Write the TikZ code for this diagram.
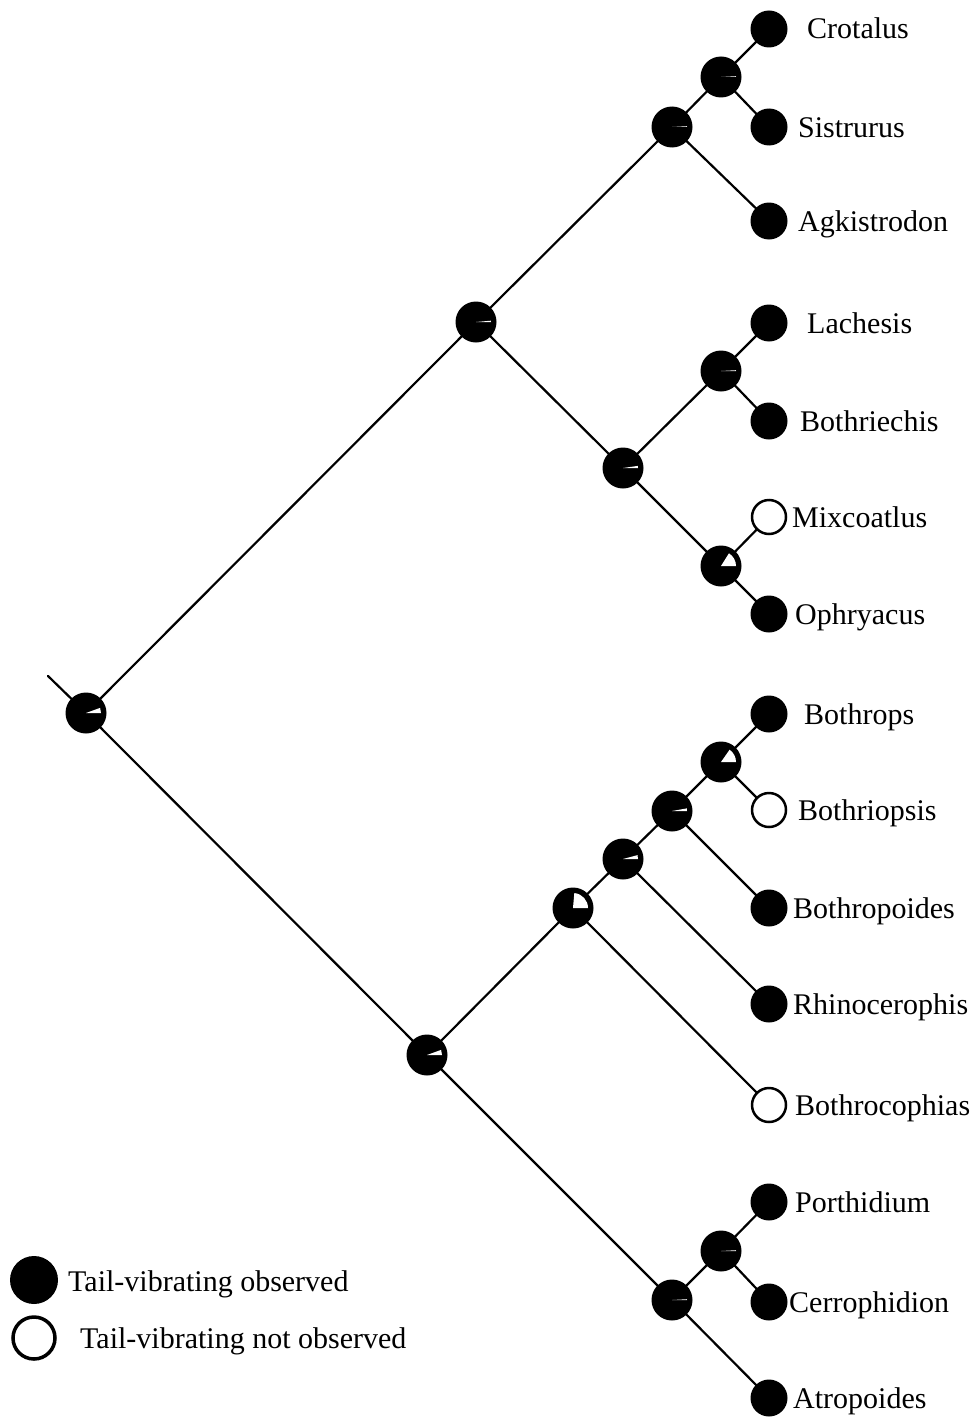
\documentclass[tikz,border=0pt]{standalone}
\usepackage{fontspec}
\setmainfont{Liberation Serif}
\usetikzlibrary{backgrounds}
\begin{document}
\begin{tikzpicture}[x=1pt,y=-1pt,
  edge/.style={line width=2.2pt, line cap=round},
  tipnode/.style={circle, fill=black, minimum size=37pt, inner sep=0pt},
  opentip/.style={circle, draw=black, line width=2.5pt, fill=white, minimum size=34pt, inner sep=0pt},
  innode/.style={circle, fill=black, minimum size=41pt, inner sep=0pt},
  lab/.style={anchor=base west, font=\fontsize{30}{36}\selectfont, inner sep=0pt},
  wedge/.style={fill=white}]
\useasboundingbox (0,0) rectangle (972,1418);
% tips
\node[tipnode] (crot) at (769,29) {};
\node[tipnode] (sist) at (769,127) {};
\node[tipnode] (agk) at (769,221) {};
\node[tipnode] (lach) at (769,323) {};
\node[tipnode] (bothri) at (769,421) {};
\node[opentip] (mix) at (769,517) {};
\node[tipnode] (oph) at (769,614) {};
\node[tipnode] (bops) at (769,714) {};
\node[opentip] (bopsis) at (769,810) {};
\node[tipnode] (boides) at (769,908) {};
\node[tipnode] (rhino) at (769,1004) {};
\node[opentip] (bcoph) at (769,1105) {};
\node[tipnode] (porth) at (769,1202) {};
\node[tipnode] (cerro) at (769,1302) {};
\node[tipnode] (atrop) at (769,1398) {};
% internal
\node[innode] (n1) at (721,77) {};
\node[innode] (n2) at (672,127) {};
\node[innode] (n3) at (721,371) {};
\node[innode] (n4) at (721,566) {};
\node[innode] (n5) at (623,468) {};
\node[innode] (n6) at (476,322) {};
\node[innode] (root) at (86,713) {};
\node[innode] (n7) at (721,762) {};
\node[innode] (n8) at (672,811) {};
\node[innode] (n9) at (623,859) {};
\node[innode] (n10) at (573,908) {};
\node[innode] (n11) at (721,1251) {};
\node[innode] (n12) at (672,1300) {};
\node[innode] (n13) at (427,1055) {};
\coordinate (stem) at (48,676);
% wedges
\foreach \n/\a in {n1/3,n2/3,n3/3,n4/58,n5/8,n6/5,root/20,n7/55,n8/10,n9/15,n10/85,n11/3,n12/3,n13/20}{
  \fill[wedge] (\n.center) -- ++(0:15pt) arc[start angle=0, end angle=\a, radius=15pt] -- cycle;
}
% edges
\begin{scope}[on background layer]
\fill[white] (0,0) rectangle (972,1418);
\draw[edge] (stem) -- (root.center);
\draw[edge] (root.center) -- (n6.center);
\draw[edge] (root.center) -- (n13.center);
\draw[edge] (n6.center) -- (n2.center);
\draw[edge] (n6.center) -- (n5.center);
\draw[edge] (n2.center) -- (n1.center);
\draw[edge] (n2.center) -- (agk.center);
\draw[edge] (n1.center) -- (crot.center);
\draw[edge] (n1.center) -- (sist.center);
\draw[edge] (n5.center) -- (n3.center);
\draw[edge] (n5.center) -- (n4.center);
\draw[edge] (n3.center) -- (lach.center);
\draw[edge] (n3.center) -- (bothri.center);
\draw[edge] (n4.center) -- (mix.center);
\draw[edge] (n4.center) -- (oph.center);
\draw[edge] (n13.center) -- (n10.center);
\draw[edge] (n13.center) -- (n12.center);
\draw[edge] (n10.center) -- (n9.center);
\draw[edge] (n10.center) -- (bcoph.center);
\draw[edge] (n9.center) -- (n8.center);
\draw[edge] (n9.center) -- (rhino.center);
\draw[edge] (n8.center) -- (n7.center);
\draw[edge] (n8.center) -- (boides.center);
\draw[edge] (n7.center) -- (bops.center);
\draw[edge] (n7.center) -- (bopsis.center);
\draw[edge] (n12.center) -- (n11.center);
\draw[edge] (n12.center) -- (atrop.center);
\draw[edge] (n11.center) -- (porth.center);
\draw[edge] (n11.center) -- (cerro.center);
\end{scope}
% labels
\node[lab] (lcrot) at (807,39) {Crotalus};
\node[lab] (lsist) at (798,137) {Sistrurus};
\node[lab] (lagk) at (798,231) {Agkistrodon};
\node[lab] (llach) at (807,333) {Lachesis};
\node[lab] (lbothri) at (800,431) {Bothriechis};
\node[lab] (lmix) at (792,527) {Mixcoatlus};
\node[lab] (loph) at (795,624) {Ophryacus};
\node[lab] (lbops) at (804,724) {Bothrops};
\node[lab] (lbopsis) at (798,820) {Bothriopsis};
\node[lab] (lboides) at (793,918) {Bothropoides};
\node[lab] (lrhino) at (793,1014) {Rhinocerophis};
\node[lab] (lbcoph) at (795,1115) {Bothrocophias};
\node[lab] (lporth) at (795,1212) {Porthidium};
\node[lab] (lcerro) at (789,1312) {Cerrophidion};
\node[lab] (latrop) at (793,1408) {Atropoides};
% legend
\node[circle, fill=black, minimum size=48pt, inner sep=0pt] (legf) at (34,1280) {};
\node[circle, draw=black, line width=3.5pt, fill=white, minimum size=42pt, inner sep=0pt] (lego) at (34,1338) {};
\node[lab] (legft) at (68,1291) {Tail-vibrating observed};
\node[lab] (legot) at (80,1348) {Tail-vibrating not observed};
\end{tikzpicture}
\end{document}
